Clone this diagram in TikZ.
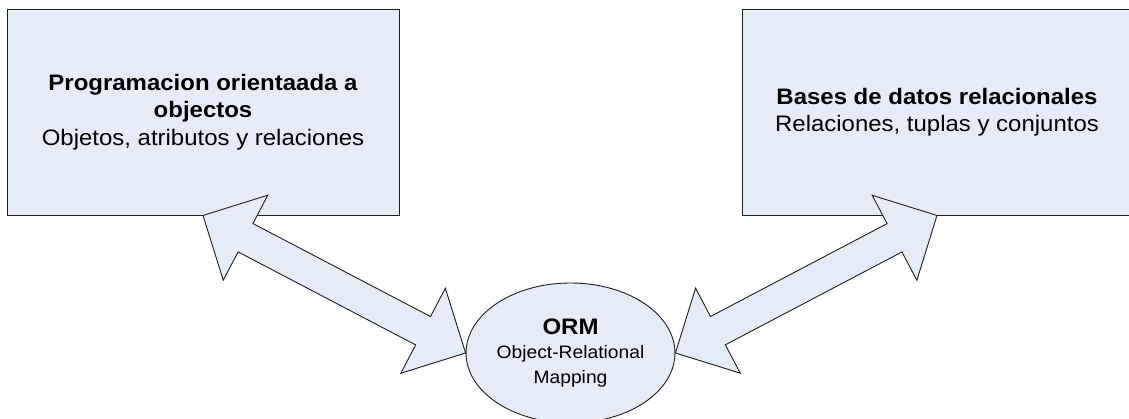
\documentclass[tikz,border=0pt]{standalone}
\usepackage{fontspec}
\setmainfont[FakeStretch=1.07]{Liberation Sans}
\usetikzlibrary{shapes.geometric,calc}
\definecolor{boxfill}{RGB}{230,236,247}
\definecolor{edgec}{RGB}{30,30,30}
\tikzset{
  panel/.style={draw=edgec,fill=boxfill,line width=0.9pt,inner sep=0pt,align=center,
    font=\fontsize{22.4}{27.5}\selectfont},
  ormnode/.style={ellipse,draw=edgec,fill=boxfill,line width=0.9pt,inner sep=0pt,
    minimum width=207pt,minimum height=140pt,align=center,font=\fontsize{18}{24.5}\selectfont},
  blockarrow/.style={draw=edgec,fill=boxfill,line width=0.9pt,line join=miter}
}
\newcommand{\dblarrow}[3]{%
  \coordinate (#3h1) at ($(#1)!48pt!(#2)$);
  \coordinate (#3h2) at ($(#2)!48pt!(#1)$);
  \draw[blockarrow] (#1) -- ($(#3h1)!48pt!90:(#2)$) -- ($(#3h1)!16pt!90:(#2)$)
    -- ($(#3h2)!16pt!-90:(#1)$) -- ($(#3h2)!48pt!-90:(#1)$) -- (#2)
    -- ($(#3h2)!48pt!90:(#1)$) -- ($(#3h2)!16pt!90:(#1)$)
    -- ($(#3h1)!16pt!-90:(#2)$) -- ($(#3h1)!48pt!-90:(#2)$) -- cycle;}
\begin{document}
\begin{tikzpicture}[x=1pt,y=-1pt]
\useasboundingbox (0,0) rectangle (1129,419);
\clip (0,0) rectangle (1129,419);
\node[panel,minimum width=392pt,minimum height=206pt] (oop) at (203,112)
  {{\bfseries Programacion orientaada a}\\{\bfseries objectos}\\Objetos, atributos y relaciones};
\node[panel,minimum width=390pt,minimum height=206pt] (rdb) at (937,112)
  {{\bfseries Bases de datos relacionales}\\Relaciones, tuplas y conjuntos};
\node[ormnode] (orm) at (570.5,353)
  {{\fontsize{22.4}{25}\selectfont\bfseries ORM}\\Object-Relational\\Mapping};
\dblarrow{oop.south}{orm.west}{l}
\dblarrow{rdb.south}{orm.east}{r}
\end{tikzpicture}
\end{document}
